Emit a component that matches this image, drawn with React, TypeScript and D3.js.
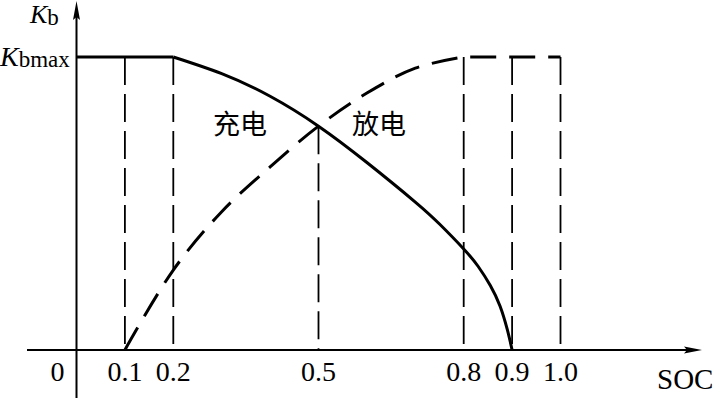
import React from "react";
import * as d3 from "d3";

const xTicks = [0.1, 0.2, 0.5, 0.8, 0.9, 1.0];
const xTickLabels = ["0.1", "0.2", "0.5", "0.8", "0.9", "1.0"];
const chargeSoc = [0, 0.2, 0.3, 0.4, 0.5, 0.6, 0.7, 0.75, 0.8, 0.83, 0.855, 0.875, 0.89, 0.9];
const chargeKb = [1, 1, 0.943, 0.866, 0.764, 0.64, 0.505, 0.43, 0.345, 0.285, 0.22, 0.15, 0.07, 0];
const dischargeSoc = [0.1, 0.2, 0.3, 0.4, 0.5, 0.6, 0.7, 0.8, 0.9, 1.0];
const dischargeKb = [0, 0.273, 0.472, 0.625, 0.764, 0.877, 0.962, 1, 1, 1];
const kbMax = 1;

const W = 716;
const H = 398;

export default function App() {
  const x = d3.scaleLinear().domain([0, 1]).range([76.5, 560.5]);
  const y = d3.scaleLinear().domain([0, 1]).range([350, 57]);
  const x0 = x(0);
  const y0 = y(0);

  const chargePts = chargeSoc.map((s, i) => [s, chargeKb[i]] as [number, number]);
  const chargeFlat = chargePts.filter((d) => d[0] <= 0.2);
  const chargeCurve = chargePts.filter((d) => d[0] >= 0.2);
  const disCurve = dischargeSoc.map((s, i) => [s, dischargeKb[i]] as [number, number]);

  const lineLin = d3.line<[number, number]>().x((d) => x(d[0])).y((d) => y(d[1]));
  const lineCurve = d3
    .line<[number, number]>()
    .x((d) => x(d[0]))
    .y((d) => y(d[1]))
    .curve(d3.curveCatmullRom.alpha(0.5));
  const lineNatural = d3
    .line<[number, number]>()
    .x((d) => x(d[0]))
    .y((d) => y(d[1]))
    .curve(d3.curveNatural);
  const disRise = disCurve.filter((d) => d[0] <= 0.8);
  const disFlat = disCurve.filter((d) => d[0] >= 0.8);
  const disPath = (lineCurve(disRise) || "") + (lineLin(disFlat) || "").replace(/^M/, "L");

  const intersect = chargeKb[chargeSoc.indexOf(0.5)];
  const vlines = xTicks.map((t) => ({ t, top: t === 0.5 ? y(intersect) : y(kbMax) }));

  const serif = "'Liberation Serif', 'DejaVu Serif', serif";
  const cjk = "'Noto Sans CJK SC', sans-serif";

  return (
    <svg width={W} height={H} style={{ position: "absolute", left: 0, top: 0, background: "#fff" }}>
      <rect x={0} y={0} width={W} height={H} fill="#fff" />
      {vlines.map((v) => (
        <line
          key={v.t}
          x1={x(v.t)}
          x2={x(v.t)}
          y1={v.top}
          y2={y0}
          stroke="#000"
          strokeWidth={1.8}
          strokeDasharray="28 9"
        />
      ))}
      {/* axes */}
      <line x1={27} x2={692} y1={y0} y2={y0} stroke="#000" strokeWidth={2} />
      <path d={`M702,${y0} L684,${y0 - 3.5} L687,${y0} L684,${y0 + 3.5} Z`} fill="#000" />
      <line x1={x0} x2={x0} y1={12} y2={398} stroke="#000" strokeWidth={2} />
      <path d={`M${x0},1 L${x0 - 3.5},20 L${x0},17 L${x0 + 3.5},20 Z`} fill="#000" />

      {/* charge curve */}
      <path d={lineLin(chargeFlat) || ""} fill="none" stroke="#000" strokeWidth={3} />
      <path d={lineNatural(chargeCurve) || ""} fill="none" stroke="#000" strokeWidth={3} />
      {/* discharge curve */}
      <path d={disPath} fill="none" stroke="#000" strokeWidth={3} strokeDasharray="26 13" />

      {/* tick labels */}
      <text x={57.5} y={381} fontFamily={serif} fontSize={28} textAnchor="middle">0</text>
      {xTicks.map((t, i) => (
        <text key={t} x={x(t)} y={381} fontFamily={serif} fontSize={28} textAnchor="middle">
          {xTickLabels[i]}
        </text>
      ))}
      <text x={657} y={389} fontFamily={serif} fontSize={29}>SOC</text>

      {/* y labels */}
      <text x={30} y={23} fontFamily={serif} fontSize={26}>
        <tspan fontStyle="italic">K</tspan>
        <tspan fontSize={23} dy={2}>b</tspan>
      </text>
      <text x={0} y={66} fontFamily={serif} fontSize={28}>
        <tspan fontStyle="italic">K</tspan>
        <tspan fontSize={23} dy={1}>bmax</tspan>
      </text>

      {/* curve labels */}
      <text x={213} y={134} fontFamily={cjk} fontSize={27}>充电</text>
      <text x={352} y={134} fontFamily={cjk} fontSize={27}>放电</text>
    </svg>
  );
}
